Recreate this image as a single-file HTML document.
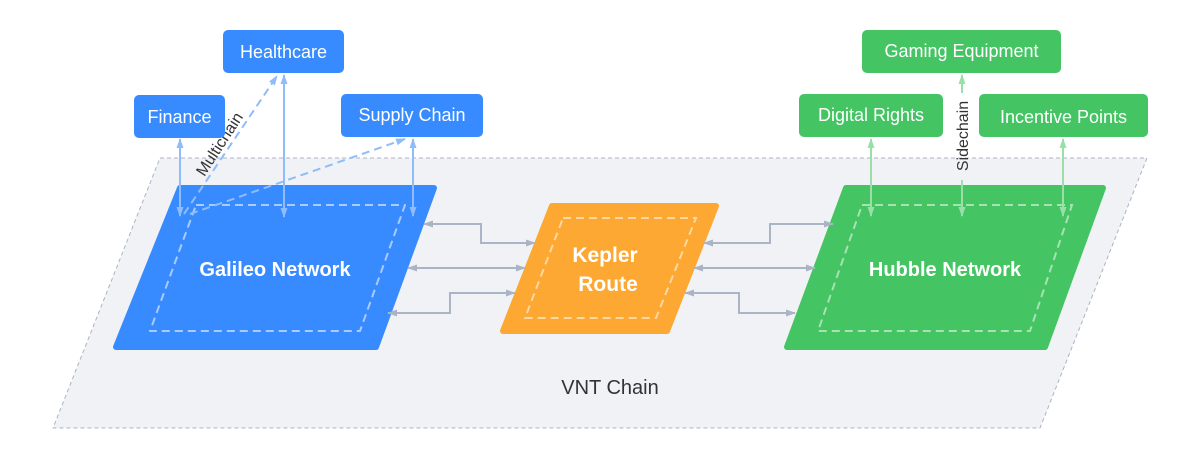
<!DOCTYPE html>
<html><head><style>body{margin:0;background:#fff}svg{display:block}text{font-family:"Liberation Sans",sans-serif}</style></head><body>
<svg width="1200" height="459" viewBox="0 0 1200 459" xmlns="http://www.w3.org/2000/svg">
<defs>
<marker id="g" viewBox="0 0 10 10" refX="9" refY="5" markerUnits="userSpaceOnUse" markerWidth="10" markerHeight="10" orient="auto-start-reverse"><path d="M0,1.5L10,5L0,8.5z" fill="#aab4c4"/></marker>
<marker id="b" viewBox="0 0 10 10" refX="9" refY="5" markerUnits="userSpaceOnUse" markerWidth="10" markerHeight="10" orient="auto-start-reverse"><path d="M0,1.5L10,5L0,8.5z" fill="#8fbcfb"/></marker>
<marker id="gr" viewBox="0 0 10 10" refX="9" refY="5" markerUnits="userSpaceOnUse" markerWidth="10" markerHeight="10" orient="auto-start-reverse"><path d="M0,1.5L10,5L0,8.5z" fill="#98dfa8"/></marker>
</defs>
<path d="M160,158 L1147,158 L1040,428 L53,428 Z" fill="#f1f2f6" stroke="#aab4c4" stroke-dasharray="4,3" stroke-linejoin="round"/>
<path d="M180,188 L434,188 L376,347 L116,347 Z" fill="#378bfe" stroke="#378bfe" stroke-width="6" stroke-linejoin="round"/>
<path d="M196,205 L405,205 L360,331 L150,331 Z" fill="none" stroke="#a9cbfd" stroke-width="2" stroke-dasharray="8,5" stroke-linejoin="round"/>
<text x="275" y="276" font-size="20" font-weight="bold" fill="#fff" text-anchor="middle">Galileo Network</text>
<path d="M552,206 L716,206 L667,331 L503,331 Z" fill="#fca832" stroke="#fca832" stroke-width="6" stroke-linejoin="round"/>
<path d="M563,218 L696,218 L656,318 L525,318 Z" fill="none" stroke="#fdd8a0" stroke-width="2" stroke-dasharray="8,5"/>
<text x="605" y="262" font-size="21" font-weight="bold" fill="#fff" text-anchor="middle">Kepler</text>
<text x="608" y="291" font-size="21" font-weight="bold" fill="#fff" text-anchor="middle">Route</text>
<path d="M846,188 L1103,188 L1045,347 L787,347 Z" fill="#45c464" stroke="#45c464" stroke-width="6" stroke-linejoin="round"/>
<path d="M862,205 L1072,205 L1030,331 L818,331 Z" fill="none" stroke="#a6e2b3" stroke-width="2" stroke-dasharray="8,5"/>
<text x="945" y="276" font-size="20" font-weight="bold" fill="#fff" text-anchor="middle">Hubble Network</text>
<text x="610" y="394" font-size="20" fill="#333" text-anchor="middle">VNT Chain</text>
<g fill="none" stroke="#aab4c4" stroke-width="2">
<path d="M424,224 H481 V243 H535" marker-start="url(#g)" marker-end="url(#g)"/>
<path d="M408,268 H525" marker-start="url(#g)" marker-end="url(#g)"/>
<path d="M388,313 H450 V293 H515" marker-start="url(#g)" marker-end="url(#g)"/>
<path d="M704,243 H770 V224 H833" marker-start="url(#g)" marker-end="url(#g)"/>
<path d="M694,268 H815" marker-start="url(#g)" marker-end="url(#g)"/>
<path d="M685,293 H739 V313 H795" marker-start="url(#g)" marker-end="url(#g)"/>
</g>
<g fill="none" stroke="#8fbcfb" stroke-width="2">
<path d="M180,139 V216" marker-start="url(#b)" marker-end="url(#b)"/>
<path d="M284,75 V217" marker-start="url(#b)" marker-end="url(#b)"/>
<path d="M413,139 V216" marker-start="url(#b)" marker-end="url(#b)"/>
<path d="M184,214 L277,76" stroke-dasharray="8,5" marker-end="url(#b)"/>
<path d="M190,214 L405,139" stroke-dasharray="8,5" marker-end="url(#b)"/>
</g>
<text x="0" y="0" font-size="16" fill="#333" text-anchor="middle" transform="translate(224,147) rotate(-57)">Multichain</text>
<g fill="none" stroke="#98dfa8" stroke-width="2">
<path d="M871,139 V216" marker-start="url(#gr)" marker-end="url(#gr)"/>
<path d="M1063,139 V216" marker-start="url(#gr)" marker-end="url(#gr)"/>
<path d="M962,75 V93" marker-start="url(#gr)"/>
<path d="M962,180 V216" marker-end="url(#gr)"/>
</g>
<text x="0" y="0" font-size="16" fill="#333" text-anchor="middle" transform="translate(968,136) rotate(-90)">Sidechain</text>
<g font-size="18" fill="#fff" text-anchor="middle">
<rect x="134" y="95" width="91" height="43" rx="5" fill="#378bfe"/><text x="179.5" y="123">Finance</text>
<rect x="223" y="30" width="121" height="43" rx="5" fill="#378bfe"/><text x="283.5" y="58">Healthcare</text>
<rect x="341" y="94" width="142" height="43" rx="5" fill="#378bfe"/><text x="412" y="121">Supply Chain</text>
<rect x="862" y="30" width="199" height="43" rx="5" fill="#45c464"/><text x="961.5" y="57">Gaming Equipment</text>
<rect x="799" y="94" width="144" height="43" rx="5" fill="#45c464"/><text x="871" y="121">Digital Rights</text>
<rect x="979" y="94" width="169" height="43" rx="5" fill="#45c464"/><text x="1063.5" y="123">Incentive Points</text>
</g>
</svg>
</body></html>
